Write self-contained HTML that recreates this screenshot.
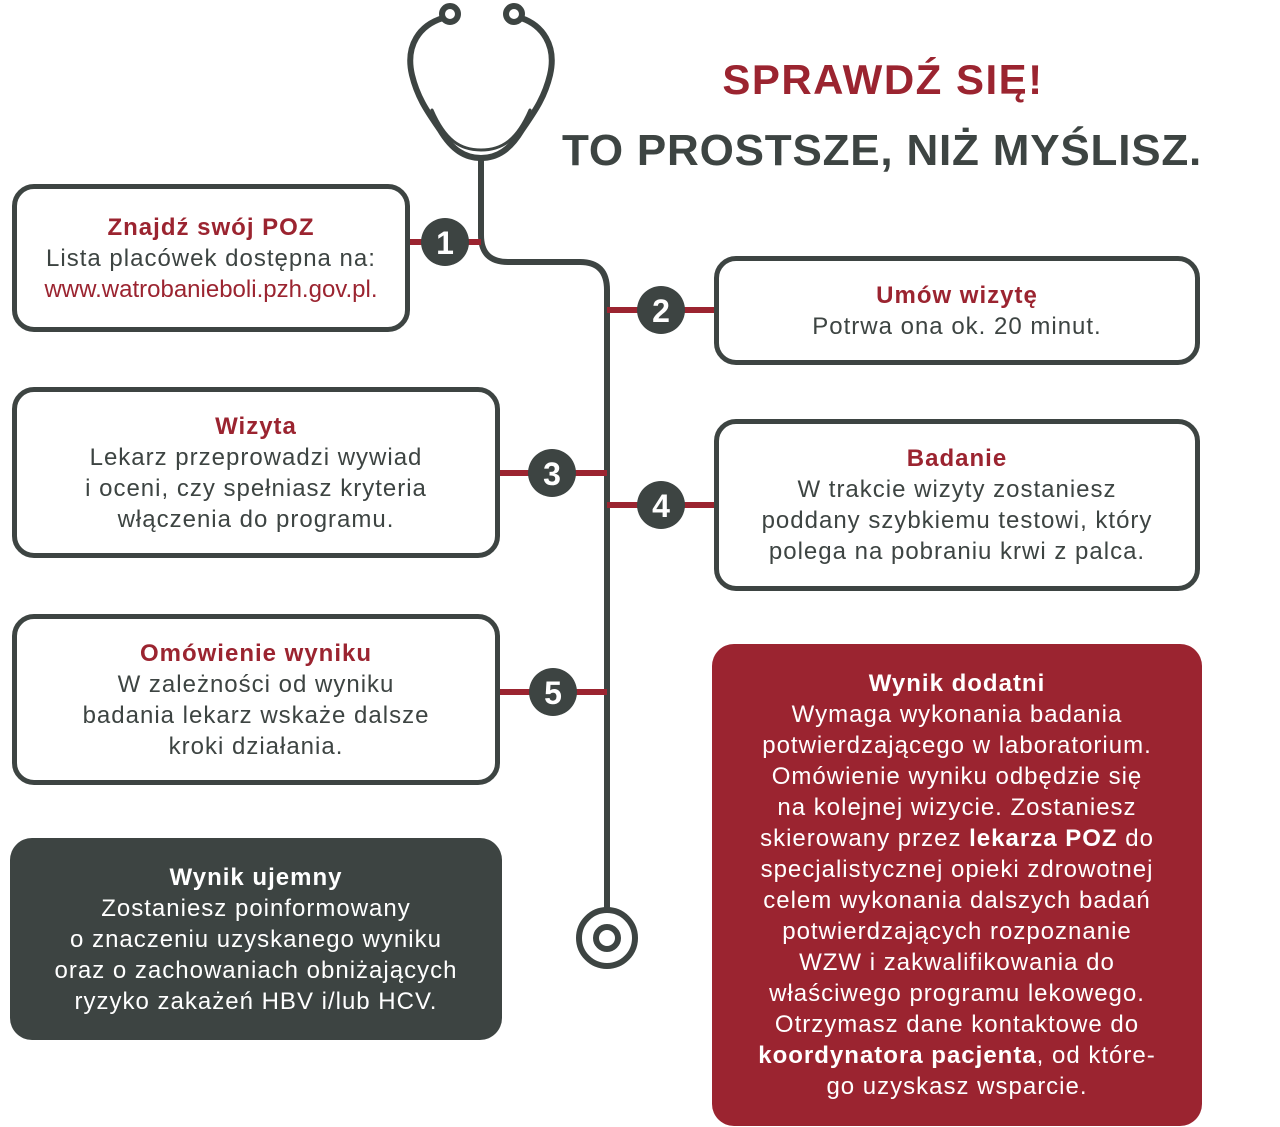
<!DOCTYPE html>
<html><head><meta charset="utf-8"><style>
body{margin:0;width:1280px;height:1127px;background:#fff;position:relative;overflow:hidden;font-family:"Liberation Sans",sans-serif;}
.b{position:absolute;box-sizing:border-box;border:5px solid #3d4442;border-radius:22px;text-align:center;color:#3d4442;font-size:24px;line-height:31px;letter-spacing:1px;display:flex;align-items:center;justify-content:center;white-space:nowrap;}
.t{color:#9b2430;font-weight:bold;}
.w{color:#fff;font-weight:bold;}
.h{position:absolute;font-weight:bold;letter-spacing:1.5px;white-space:nowrap;}
</style></head><body>
<svg width="1280" height="1127" style="position:absolute;left:0;top:0">
<g fill="none" stroke="#3d4442" stroke-width="6" stroke-linecap="round">
<circle cx="450" cy="14" r="8"/><circle cx="514" cy="14" r="8"/>
<path d="M443 18 C420 25 405 45 412 75 C418 100 430 115 440 130 C452 150 465 158 481 158 C497 158 510 150 522 130 C532 115 544 100 550 75 C557 45 542 25 521 18"/>
<path d="M432 110 C445 140 460 150 481 150 C502 150 517 140 530 110" stroke-width="3"/>
<path d="M481 158 L481 235 Q481 262 508 262 L580 262 Q607 262 607 290 L607 910"/>
<circle cx="607" cy="938" r="28"/><circle cx="607" cy="938" r="11"/>
</g>
<g stroke="#9b2430" stroke-width="6">
<line x1="410" y1="242" x2="481" y2="242"/>
<line x1="607" y1="310" x2="715" y2="310"/>
<line x1="500" y1="473" x2="607" y2="473"/>
<line x1="607" y1="505" x2="715" y2="505"/>
<line x1="500" y1="692" x2="607" y2="692"/>
</g>
<g fill="#3d4442">
<circle cx="445" cy="242" r="24"/><circle cx="661" cy="310" r="24"/><circle cx="552" cy="473" r="24"/><circle cx="661" cy="505" r="24"/><circle cx="553" cy="692" r="24"/>
</g>
<g fill="#fff" font-family="Liberation Sans" font-weight="bold" font-size="32" text-anchor="middle">
<text x="445" y="254">1</text><text x="661" y="322">2</text><text x="552" y="485">3</text><text x="661" y="517">4</text><text x="553" y="704">5</text>
</g>
</svg>
<div class="h" style="left:640px;width:486px;text-align:center;top:56px;font-size:42px;color:#9b2430">SPRAWDŹ SIĘ!</div>
<div class="h" style="left:537px;width:690px;text-align:center;top:126px;font-size:44px;color:#3d4442;letter-spacing:0.8px">TO PROSTSZE, NIŻ MYŚLISZ.</div>
<div class="b" style="left:12px;top:184px;width:398px;height:148px"><div><span class="t">Znajdź swój POZ</span><br>Lista placówek dostępna na:<br><span style="color:#9b2430;letter-spacing:0">www.watrobanieboli.pzh.gov.pl.</span></div></div>
<div class="b" style="left:714px;top:256px;width:486px;height:109px"><div><span class="t">Umów wizytę</span><br>Potrwa ona ok. 20 minut.</div></div>
<div class="b" style="left:12px;top:387px;width:488px;height:171px"><div><span class="t">Wizyta</span><br>Lekarz przeprowadzi wywiad<br>i oceni, czy spełniasz kryteria<br>włączenia do programu.</div></div>
<div class="b" style="left:714px;top:419px;width:486px;height:172px"><div><span class="t">Badanie</span><br>W trakcie wizyty zostaniesz<br>poddany szybkiemu testowi, który<br>polega na pobraniu krwi z palca.</div></div>
<div class="b" style="left:12px;top:614px;width:488px;height:171px"><div><span class="t">Omówienie wyniku</span><br>W zależności od wyniku<br>badania lekarz wskaże dalsze<br>kroki działania.</div></div>
<div class="b" style="left:10px;top:838px;width:492px;height:202px;background:#3d4442;color:#fff;border:none"><div><span class="w">Wynik ujemny</span><br>Zostaniesz poinformowany<br>o znaczeniu uzyskanego wyniku<br>oraz o zachowaniach obniżających<br>ryzyko zakażeń HBV i/lub HCV.</div></div>
<div class="b" style="left:712px;top:644px;width:490px;height:482px;background:#9b2430;color:#fff;border:none"><div><span class="w">Wynik dodatni</span><br>Wymaga wykonania badania<br>potwierdzającego w laboratorium.<br>Omówienie wyniku odbędzie się<br>na kolejnej wizycie. Zostaniesz<br>skierowany przez <b>lekarza POZ</b> do<br>specjalistycznej opieki zdrowotnej<br>celem wykonania dalszych badań<br>potwierdzających rozpoznanie<br>WZW i zakwalifikowania do<br>właściwego programu lekowego.<br>Otrzymasz dane kontaktowe do<br><b>koordynatora pacjenta</b>, od które-<br>go uzyskasz wsparcie.</div></div>
</body></html>
